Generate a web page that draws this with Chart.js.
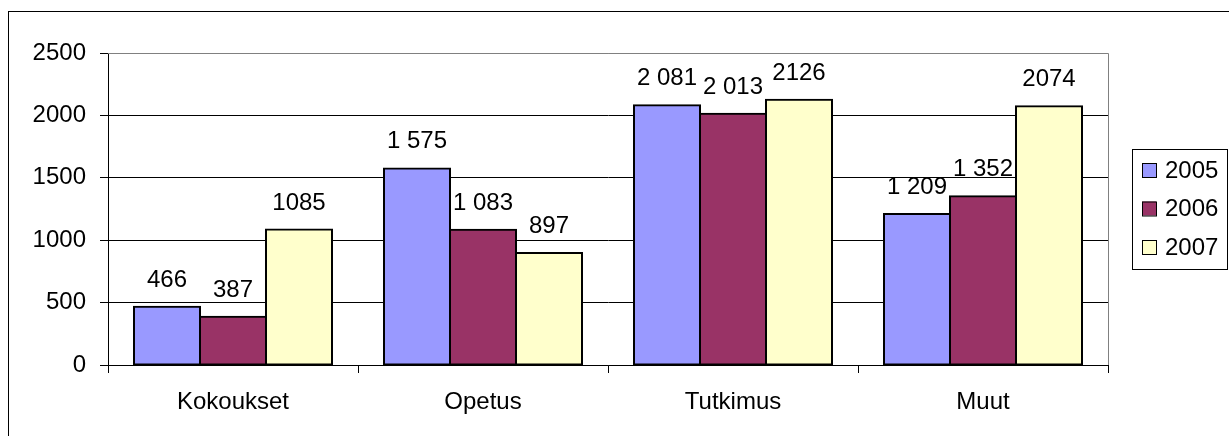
<!DOCTYPE html>
<html>
<head>
<meta charset="utf-8">
<script src="https://cdn.jsdelivr.net/npm/chart.js@4.4.1/dist/chart.umd.min.js"></script>
<style>
  html, body { margin: 0; padding: 0; background: #fff; overflow: hidden; }
  #frame { position: absolute; left: 8px; top: 11px; width: 1400px; height: 600px; border: 1px solid #000; }
  #chart { position: absolute; left: 0; top: 0; }
</style>
</head>
<body>
<div id="frame"></div>
<canvas id="chart" width="1229" height="436"></canvas>
<script>
  const categories = ['Kokoukset', 'Opetus', 'Tutkimus', 'Muut'];
  const years = ['2005', '2006', '2007'];
  const values2005 = [466, 1575, 2081, 1209];
  const values2006 = [387, 1083, 2013, 1352];
  const values2007 = [1085, 897, 2126, 2074];
  // value labels as printed in the original (mixed formatting)
  const labels2005 = ['466', '1 575', '2 081', '1 209'];
  const labels2006 = ['387', '1 083', '2 013', '1 352'];
  const labels2007 = ['1085', '897', '2126', '2074'];
  const yTicks = [0, 500, 1000, 1500, 2000, 2500];

  const FONT = 'Liberation Sans, Arial, sans-serif';
  const colors = ['#9999FF', '#993366', '#FFFFCC'];
  const valueLabels = [labels2005, labels2006, labels2007];
  const seriesValues = [values2005, values2006, values2007];

  // value labels above bars
  const barLabels = {
    id: 'barLabels',
    afterDatasetsDraw(chart) {
      const ctx = chart.ctx;
      ctx.save();
      ctx.font = '24px ' + FONT;
      ctx.fillStyle = '#000';
      ctx.textAlign = 'center';
      ctx.textBaseline = 'alphabetic';
      chart.data.datasets.forEach(function (ds, i) {
        chart.getDatasetMeta(i).data.forEach(function (bar, j) {
          ctx.fillText(valueLabels[i][j], bar.x, bar.y - 20);
        });
      });
      ctx.restore();
    }
  };

  // gray top/right plot border + boxed legend
  const frameAndLegend = {
    id: 'frameAndLegend',
    afterDraw(chart) {
      const ctx = chart.ctx;
      const a = chart.chartArea;
      ctx.save();
      ctx.strokeStyle = '#808080';
      ctx.lineWidth = 1;
      ctx.beginPath();
      ctx.moveTo(a.left, a.top + 0.5);
      ctx.lineTo(a.right + 0.5, a.top + 0.5);
      ctx.lineTo(a.right + 0.5, a.bottom);
      ctx.stroke();

      const lx = 1132, ly = 149, lw = 95, lh = 120;
      ctx.strokeStyle = '#000';
      ctx.strokeRect(lx + 0.5, ly + 0.5, lw, lh);
      ctx.font = '24px ' + FONT;
      ctx.textAlign = 'left';
      ctx.textBaseline = 'middle';
      chart.data.datasets.forEach(function (ds, i) {
        const cy = 170 + i * 38.5;
        ctx.fillStyle = ds.backgroundColor;
        ctx.fillRect(lx + 10, cy - 7, 14, 14);
        ctx.strokeRect(lx + 10.5, cy - 6.5, 14, 14);
        ctx.fillStyle = '#000';
        ctx.fillText(ds.label, lx + 33, cy + 1);
      });
      ctx.restore();
    }
  };

  new Chart(document.getElementById('chart'), {
    type: 'bar',
    data: {
      labels: categories,
      datasets: years.map(function (y, i) {
        return {
          label: y,
          data: seriesValues[i],
          backgroundColor: colors[i],
          borderColor: '#000',
          borderWidth: 2,
          borderSkipped: false,
          inflateAmount: 1,
          barPercentage: 1,
          categoryPercentage: 0.792
        };
      })
    },
    options: {
      responsive: false,
      animation: false,
      layout: { padding: { left: 0, right: 121, top: 53, bottom: 0 } },
      plugins: {
        legend: { display: false },
        tooltip: { enabled: false }
      },
      scales: {
        x: {
          afterFit(scale) { scale.height = 71; },
          grid: {
            offset: true,
            drawOnChartArea: false,
            drawTicks: true,
            tickLength: 8,
            color: '#000'
          },
          border: { color: '#000', width: 1 },
          ticks: {
            color: '#000',
            padding: 15,
            font: { family: FONT, size: 24 }
          }
        },
        y: {
          min: 0,
          max: 2500,
          afterFit(scale) { scale.width = 108; },
          afterBuildTicks(scale) {
            scale.ticks = yTicks.map(function (v) { return { value: v }; });
          },
          grid: {
            color: function (c) { return c.tick && c.tick.value === 2500 ? '#808080' : '#000'; },
            tickColor: '#000',
            tickLength: 8
          },
          border: { color: '#000', width: 1 },
          ticks: {
            color: '#000',
            padding: 14,
            font: { family: FONT, size: 24 },
            callback: function (v) { return String(v); }
          }
        }
      }
    },
    plugins: [barLabels, frameAndLegend]
  });
</script>
</body>
</html>
